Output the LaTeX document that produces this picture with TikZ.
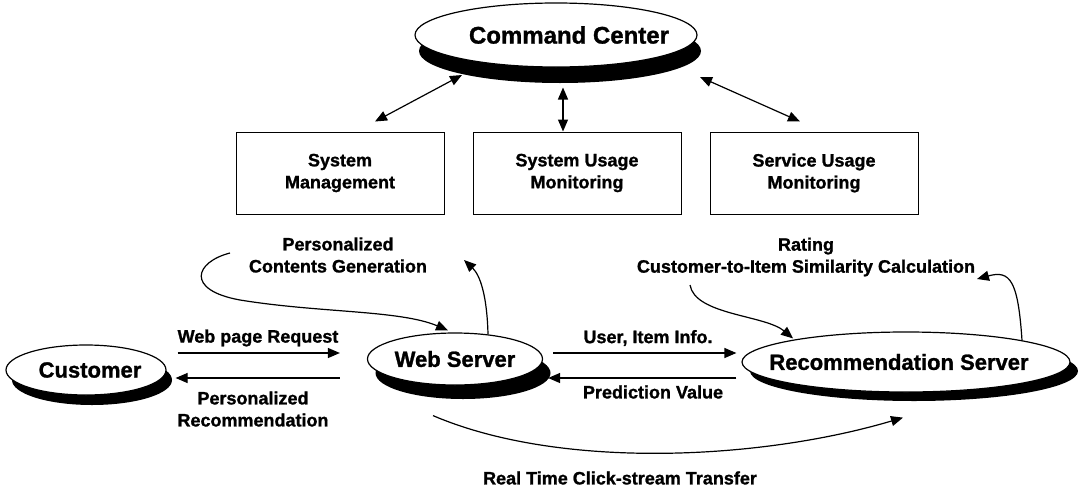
\documentclass[tikz,border=0pt]{standalone}
\usepackage{fontspec}
\setmainfont{Liberation Sans}[BoldFeatures={FakeBold=1.2}]
\usetikzlibrary{shapes.geometric,shadows,arrows.meta,calc}
\begin{document}
\begin{tikzpicture}[x=1pt,y=-1pt,
  ell/.style={ellipse, draw, line width=1.2pt, fill=white, inner sep=0pt, font=\fontsize{22}{26}\selectfont\bfseries},
  sh/.style 2 args={drop shadow={shadow xshift=#1pt, shadow yshift=-#2pt, opacity=1, fill=black}},
  box/.style={draw, line width=1pt, minimum width=208pt, minimum height=82pt, align=center, font=\fontsize{18}{22}\selectfont\bfseries},
  lbl/.style={align=center, font=\fontsize{18}{22}\selectfont\bfseries},
  tip/.tip={Triangle[length=12pt,width=10pt]},
  arr/.style={line width=1.2pt, -tip},
  darr/.style={line width=1.2pt, tip-tip}
]
\useasboundingbox (0,0) rectangle (1084,490);

% ellipses
\node[ell, sh={4}{16}, minimum width=282pt, minimum height=64pt, font=\fontsize{24}{28}\selectfont\bfseries] (cc) at (556,35) {\makebox[0pt]{\hspace*{26pt}Command Center}};
\node[ell, sh={6}{10}, minimum width=160pt, minimum height=50pt] (cust) at (86,370) {\makebox[0pt]{\hspace*{8pt}Customer}};
\node[ell, sh={8}{14}, minimum width=175pt, minimum height=52pt] (web) at (455,359) {Web Server};
\node[ell, sh={8}{9}, minimum width=328pt, minimum height=60pt] (rec) at (906,362) {\makebox[0pt]{Recommendation Server\hspace*{14pt}}};

% boxes
\node[box] (b1) at (340,173) {System\\Management};
\node[box] (b2) at (577,173) {System Usage\\Monitoring};
\node[box] (b3) at (814,173) {Service Usage\\Monitoring};

% command center arrows
\draw[darr] ($(b1.north)+(35,-10)$) -- ($(cc.center)+(-94,40)$);
\draw[darr] ($(b2.north)+(-14,0)$) -- ($(b2.north)+(-14,-44)$);
\draw[darr] ($(b3.north)+(-14,-10)$) -- ($(cc.center)+(144,42)$);

% horizontal arrows
\draw[arr] ($(cust.east)+(11,-17)$) -- ($(web.west)+(-27,-6)$);
\draw[arr] ($(web.west)+(-27,19)$) -- ($(cust.east)+(9,8)$);
\draw[arr] ($(web.east)+(10,-6)$) -- ($(rec.west)+(-5,-9)$);
\draw[arr] ($(rec.west)+(-5,16)$) -- ($(web.east)+(5,19)$);

% labels
\node[lbl] (l1) at (258,338) {Web page Request};
\node[lbl] (l2) at (253,409) {Personalized\\Recommendation};
\node[lbl] (l3) at (648,338) {User, Item Info.};
\node[lbl] (l4) at (653,392) {Prediction Value};
\node[lbl] (l5) at (620,478) {Real Time Click-stream Transfer};
\node[lbl] (l6) at (338,255) {Personalized\\Contents Generation};
\node[lbl] (l7) at (806,257) {Rating\\Customer-to-Item Similarity Calculation};

% loops at web server
\coordinate (wsA) at (230,253);
\draw[arr] (wsA) .. controls (195,262) and (185,290) .. (240,300) .. controls (320,313) and (400,310) .. ($(web.north)+(-7,-2)$);
\draw[arr] ($(web.north)+(33,2)$) .. controls (487,295) and (480,275) .. (464,260);

% loops at recommendation server
\coordinate (rsA) at (690,285);
\draw[arr] (rsA) .. controls (695,315) and (765,315) .. ($(rec.north)+(-113,7)$);
\draw[arr] ($(rec.north)+(116,9)$) .. controls (1018,280) and (1010,270) .. (977,279);

% real time click-stream
\draw[arr] ($(web.south)+(-22,30)$) .. controls (560,470) and (760,460) .. ($(rec.south)+(-3,25)$);
\end{tikzpicture}
\end{document}
